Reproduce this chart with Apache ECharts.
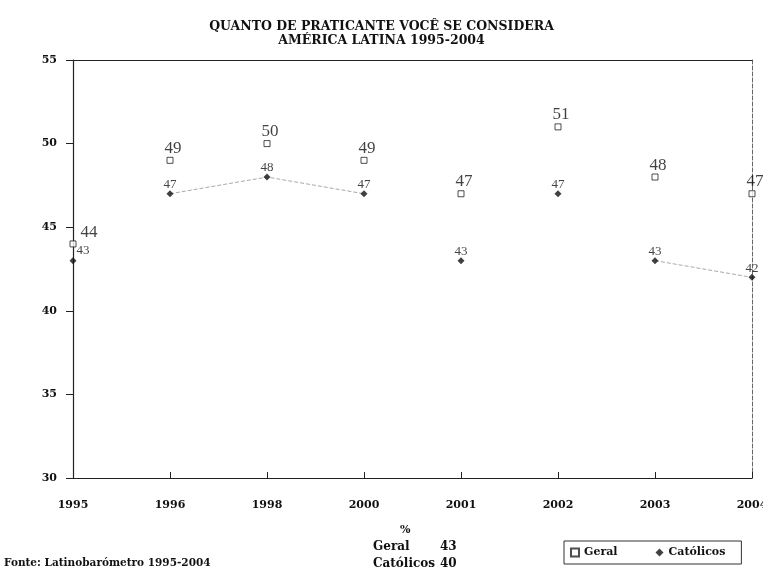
<!DOCTYPE html>
<html><head><meta charset="utf-8">
<script src="https://cdn.jsdelivr.net/npm/echarts@6/dist/echarts.min.js"></script>
<style>html,body{margin:0;padding:0;background:#fff}#c{width:763px;height:572px}</style>
</head><body><div id="c"></div>
<script>
const categories = ['1995','1996','1998','2000','2001','2002','2003','2004'];
const geral = [44,49,50,49,47,51,48,47];
const catolicos = [43,47,48,47,43,47,43,42];
const catolicosLine = [null,47,48,47,null,null,43,42];
const yTicks = [30,35,40,45,50,55];
const titleLines = ['QUANTO DE PRATICANTE VOCÊ SE CONSIDERA','AMÉRICA LATINA 1995-2004'];
const source = 'Fonte: Latinobarómetro 1995-2004';
const summaryTitle = '%';
const summaryLabels = ['Geral','Católicos'];
const summaryValues = [43,40];

const serif = '"Liberation Serif","DejaVu Serif",serif';
const wide = '"DejaVu Serif","Liberation Serif",serif';
const ink = '#111';
const txt = (left, top, text, size) => ({type:'text', left, top,
  style:{text, fontFamily:wide, fontSize:size, fontWeight:'bold', fill:ink}});

const geralData = geral.map((v,i) => i === 0
  ? {value:v, label:{offset:[16,6]}} : v);
const catData = catolicos.map((v,i) => i === 0
  ? {value:v, label:{offset:[10,5]}} : v);

const chart = echarts.init(document.getElementById('c'));
chart.setOption({
  animation:false,
  backgroundColor:'#fff',
  title:{text:titleLines.join('\n'),left:'center',top:15,
    textStyle:{fontFamily:wide,fontSize:12.5,fontWeight:'bold',color:ink,lineHeight:14}},
  grid:{left:73,right:11,top:60,bottom:94,containLabel:false,outerBoundsMode:'none'},
  legend:{left:564,top:541,orient:'horizontal',itemWidth:8,itemHeight:8,itemGap:38,
    borderColor:'#333',borderWidth:1,padding:[6,16,6,6],
    textStyle:{fontFamily:wide,fontSize:11,fontWeight:'bold',color:ink},
    data:[{name:'Geral',icon:'rect'},{name:'Católicos',icon:'diamond'}]},
  graphic:[
    txt(4,558,source,10.5),
    txt(400,525,summaryTitle,11),
    txt(373,541,summaryLabels[0],12),
    txt(440,541,String(summaryValues[0]),12),
    txt(373,558,summaryLabels[1],12),
    txt(440,558,String(summaryValues[1]),12)
  ],
  xAxis:[{type:'category',data:categories,boundaryGap:false,
    axisLine:{lineStyle:{color:'#222',width:1.2}},
    axisTick:{inside:true,length:6,lineStyle:{color:'#222'}},
    axisLabel:{fontFamily:wide,fontSize:11,fontWeight:'bold',color:ink,margin:22},
    splitLine:{show:false}},
   {type:'category',data:categories,boundaryGap:false,position:'top',
    axisLine:{lineStyle:{color:'#222',width:1.2}},axisTick:{show:false},axisLabel:{show:false}}],
  yAxis:[{type:'value',min:30,max:55,interval:5,
    axisLine:{show:true,lineStyle:{color:'#222',width:1.2}},
    axisTick:{show:true,length:7,lineStyle:{color:'#222'}},
    axisLabel:{fontFamily:wide,fontSize:11,fontWeight:'bold',color:ink,margin:16,
      formatter:v=>yTicks.includes(v)?String(v):''},
    splitLine:{show:false}},
   {type:'value',min:30,max:55,interval:5,position:'right',
    axisLine:{show:true,lineStyle:{color:'#666',width:1,type:'dashed'}},
    axisTick:{show:false},axisLabel:{show:false},splitLine:{show:false}}],
  series:[
    {name:'Católicos-line',type:'line',data:catolicosLine,symbol:'none',connectNulls:false,
      lineStyle:{color:'#aaa',width:1,type:'dashed'},silent:true,z:1},
    {name:'Geral',type:'scatter',data:geralData,symbol:'rect',symbolSize:6,
      itemStyle:{color:'#fff',borderColor:'#222',borderWidth:1},
      label:{show:true,position:'top',offset:[3,5],fontFamily:serif,fontSize:17,color:ink}},
    {name:'Católicos',type:'scatter',data:catData,symbol:'diamond',symbolSize:7,
      itemStyle:{color:ink},
      label:{show:true,position:'top',offset:[0,6],fontFamily:serif,fontSize:13,color:ink}}
  ]
});
</script></body></html>
